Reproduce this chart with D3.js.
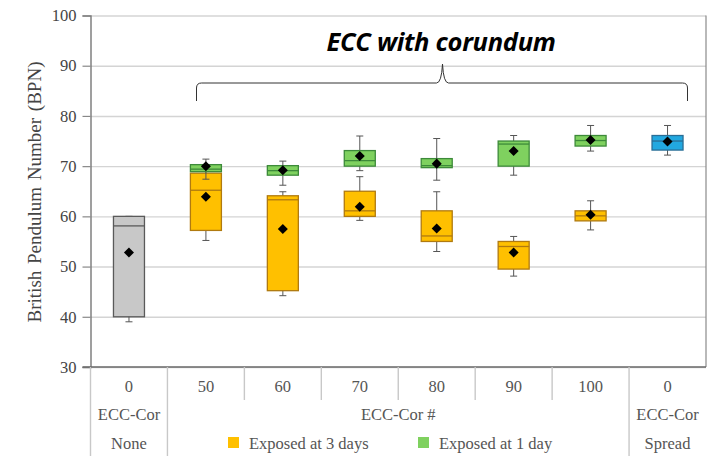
<!DOCTYPE html>
<html>
<head>
<meta charset="utf-8">
<script src="https://cdn.jsdelivr.net/npm/d3@7"></script>
<style>
  html, body { margin: 0; padding: 0; background: #fff; }
  svg { display: block; }
</style>
</head>
<body>
<svg id="chart" width="711" height="456"></svg>
<script>
// Column labels (top row of the table under the plot)
const categories = ["0", "50", "60", "70", "80", "90", "100", "0"];
const yTicks = [30, 40, 50, 60, 70, 80, 90, 100];

// Box statistics: [whisker low, Q1, median, Q3, whisker high, mean]
const controlNone = [39.0, 40.0, 58.1, 60.0, 60.0, 52.8];
const controlSpread = [72.2, 73.2, 75.0, 76.1, 78.1, 74.9];
const exposed3Days = [
  [55.2, 57.2, 65.2, 68.6, 69.0, 63.9],
  [44.2, 45.2, 63.3, 64.1, 64.9, 57.5],
  [59.2, 60.0, 61.1, 65.0, 67.9, 61.9],
  [53.0, 55.0, 56.1, 61.1, 64.9, 57.6],
  [48.1, 49.5, 54.0, 55.0, 56.0, 52.8],
  [57.3, 59.1, 60.1, 61.1, 63.1, 60.3]
];
const exposed1Day = [
  [67.4, 68.9, 69.4, 70.3, 71.4, 70.0],
  [66.2, 68.2, 69.1, 70.1, 71.0, 69.2],
  [69.1, 70.0, 71.1, 73.1, 76.0, 72.0],
  [67.2, 69.7, 70.1, 71.5, 75.5, 70.5],
  [68.2, 70.0, 74.4, 75.0, 76.1, 73.0],
  [73.0, 74.0, 75.1, 76.1, 78.1, 75.2]
];

const svg = d3.select("#chart");
const plotLeft = 90.5, plotRight = 706, plotTop = 15.5, plotBottom = 367;

const x = d3.scaleBand().domain(d3.range(categories.length)).range([plotLeft, plotRight]).paddingInner(0);
const y = d3.scaleLinear().domain([30, 100]).range([plotBottom, plotTop]);
const boxW = 31;

// Horizontal gridlines
svg.append("g")
  .attr("transform", `translate(${plotLeft},0)`)
  .call(d3.axisLeft(y).tickValues(yTicks).tickSize(-(plotRight - plotLeft)).tickFormat(""))
  .call(g => g.select(".domain").remove())
  .call(g => g.selectAll("line").attr("stroke", "#d4d4d4").attr("stroke-width", 1.4));

// Plot frame
svg.append("line").attr("x1", plotRight).attr("x2", plotRight).attr("y1", plotTop).attr("y2", plotBottom)
  .attr("stroke", "#8a8a8a").attr("stroke-width", 1.2);

// Y axis with ticks and labels
svg.append("g")
  .attr("transform", `translate(${plotLeft},0)`)
  .call(d3.axisLeft(y).tickValues(yTicks).tickSize(8).tickPadding(6))
  .call(g => g.select(".domain").attr("stroke", "#777").attr("stroke-width", 1.4))
  .call(g => g.selectAll("line").attr("stroke", "#888").attr("stroke-width", 1.2))
  .call(g => g.selectAll("text")
    .attr("font-family", "'Liberation Serif', 'Times New Roman', serif")
    .attr("font-size", 16.5).attr("fill", "#444"));

// Bottom axis line
svg.append("line").attr("x1", plotLeft - 8).attr("x2", plotRight).attr("y1", plotBottom).attr("y2", plotBottom)
  .attr("stroke", "#6a6a6a").attr("stroke-width", 1.4);

// Y axis title
svg.append("text")
  .attr("transform", `translate(41,192) rotate(-90)`)
  .attr("text-anchor", "middle")
  .attr("font-family", "'Liberation Serif', 'Times New Roman', serif")
  .attr("font-size", 19)
  .attr("word-spacing", 2)
  .attr("fill", "#444")
  .text("British Pendulum Number (BPN)");

// Box plot drawing
function drawBox(i, s, fill, stroke) {
  const cx = x(i) + x.bandwidth() / 2;
  const g = svg.append("g");
  g.append("line").attr("x1", cx).attr("x2", cx).attr("y1", y(s[0])).attr("y2", y(s[4]))
    .attr("stroke", "#555").attr("stroke-width", 1);
  [s[0], s[4]].forEach(v => g.append("line")
    .attr("x1", cx - 3.5).attr("x2", cx + 3.5).attr("y1", y(v)).attr("y2", y(v))
    .attr("stroke", "#555").attr("stroke-width", 1));
  g.append("rect").attr("x", cx - boxW / 2).attr("width", boxW)
    .attr("y", y(s[3])).attr("height", y(s[1]) - y(s[3]))
    .attr("fill", fill).attr("stroke", stroke).attr("stroke-width", 1.3);
  g.append("line").attr("x1", cx - boxW / 2).attr("x2", cx + boxW / 2)
    .attr("y1", y(s[2])).attr("y2", y(s[2]))
    .attr("stroke", stroke).attr("stroke-width", 1.3);
}
function drawMean(i, s) {
  const cx = x(i) + x.bandwidth() / 2;
  svg.append("path")
    .attr("d", d3.symbol().type(d3.symbolDiamond2).size(64)())
    .attr("transform", `translate(${cx},${y(s[5])})`)
    .attr("fill", "#000");
}

drawBox(0, controlNone, "#c8c8c8", "#5a5a5a");
exposed3Days.forEach((s, k) => drawBox(k + 1, s, "#ffc000", "#b07a10"));
exposed1Day.forEach((s, k) => drawBox(k + 1, s, "#7fd15f", "#3d8a3a"));
drawBox(7, controlSpread, "#22a8e0", "#2a6e96");

drawMean(0, controlNone);
exposed3Days.forEach((s, k) => drawMean(k + 1, s));
exposed1Day.forEach((s, k) => drawMean(k + 1, s));
drawMean(7, controlSpread);

// Title and brace over the corundum mixes
svg.append("text")
  .attr("x", 441).attr("y", 51)
  .attr("text-anchor", "middle")
  .attr("font-family", "'Open Sans', sans-serif")
  .attr("font-weight", "bold").attr("font-style", "italic")
  .attr("font-size", 25.5)
  .attr("letter-spacing", -0.3)
  .attr("fill", "#000")
  .text("ECC with corundum");

const bx0 = 196.5, bx1 = 687.5, bmid = 442.5;
svg.append("path")
  .attr("d", `M${bx0},101 L${bx0},88 Q${bx0},83 ${bx0 + 5},83 L${bmid - 6},83 Q${bmid - 1},83 ${bmid},64 ` +
             `Q${bmid + 1},83 ${bmid + 6},83 L${bx1 - 5},83 Q${bx1},83 ${bx1},88 L${bx1},101`)
  .attr("fill", "none").attr("stroke", "#333").attr("stroke-width", 1);

// Table under the plot
const serif = "'Liberation Serif', 'Times New Roman', serif";
const tableColor = "#555";
const gridColor = "#c8c8c8";
const rowY = [386, 414, 443];
const tableFont = 16.5;

// Full-height dividers
[x(0), x(1), x(7)].forEach(v => svg.append("line")
  .attr("x1", v).attr("x2", v).attr("y1", plotBottom).attr("y2", 456)
  .attr("stroke", gridColor).attr("stroke-width", 1.4));
// Short dividers for the first row
d3.range(2, 7).forEach(i => svg.append("line")
  .attr("x1", x(i)).attr("x2", x(i)).attr("y1", plotBottom).attr("y2", 400)
  .attr("stroke", gridColor).attr("stroke-width", 1.4));

categories.forEach((c, i) => svg.append("text")
  .attr("x", x(i) + x.bandwidth() / 2).attr("y", rowY[0])
  .attr("dy", "0.35em").attr("text-anchor", "middle")
  .attr("font-family", serif).attr("font-size", tableFont).attr("fill", tableColor)
  .text(c));

const groupRow = [
  { i0: 0, i1: 0, t1: "ECC-Cor", t2: "None" },
  { i0: 1, i1: 6, t1: "ECC-Cor #", t2: "" },
  { i0: 7, i1: 7, t1: "ECC-Cor", t2: "Spread" }
];
groupRow.forEach(d => {
  const cx = (x(d.i0) + x(d.i1) + x.bandwidth()) / 2;
  svg.append("text").attr("x", cx).attr("y", rowY[1]).attr("dy", "0.35em")
    .attr("text-anchor", "middle").attr("font-family", serif).attr("font-size", tableFont)
    .attr("fill", tableColor).text(d.t1);
  if (d.t2) svg.append("text").attr("x", cx).attr("y", rowY[2]).attr("dy", "0.35em")
    .attr("text-anchor", "middle").attr("font-family", serif).attr("font-size", tableFont)
    .attr("fill", tableColor).text(d.t2);
});

// Legend
const legendItems = [
  { label: "Exposed at 3 days", color: "#ffc000", x: 228 },
  { label: "Exposed at 1 day", color: "#7fd15f", x: 418 }
];
legendItems.forEach(d => {
  svg.append("rect").attr("x", d.x).attr("y", rowY[2] - 6).attr("width", 11).attr("height", 11)
    .attr("fill", d.color);
  svg.append("text").attr("x", d.x + 21).attr("y", rowY[2]).attr("dy", "0.35em")
    .attr("font-family", serif).attr("font-size", tableFont).attr("fill", tableColor)
    .text(d.label);
});
</script>
</body>
</html>
